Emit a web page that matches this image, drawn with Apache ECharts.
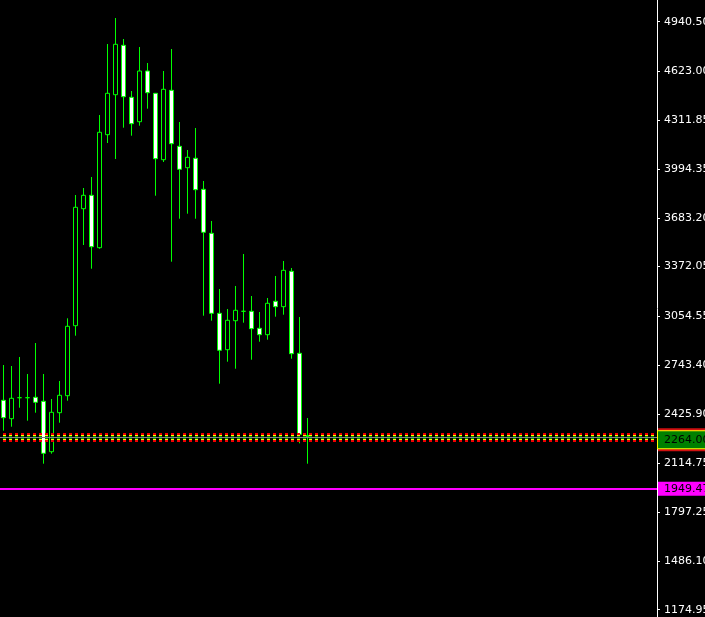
<!DOCTYPE html>
<html><head><meta charset="utf-8">
<script src="https://cdn.jsdelivr.net/npm/echarts@6/dist/echarts.min.js"></script>
<style>html,body{margin:0;padding:0;background:#000;overflow:hidden}#c{width:705px;height:617px;}</style>
</head><body><div id="c"></div>
<script>
// Candle data (oldest -> newest)
const opens  = [2516.0,2398.2,2532.6,2532.6,2535.2,2509.6,2186.8,2436.6,2545.4,2993.7,3743.0,3828.8,3493.2,4216.9,4473.0,4789.4,4456.4,4300.1,4624.8,4482.0,4056.8,4501.2,4142.6,4005.6,4065.8,3867.2,3585.5,3073.1,2840.0,3025.7,3085.9,3085.9,2977.1,2936.1,3150.0,3115.4,3342.1,2817.0,2290.0];
const closes = [2404.6,2528.8,2532.6,2532.6,2503.2,2176.5,2439.1,2548.0,2989.9,3751.9,3828.8,3499.6,4232.3,4482.0,4795.8,4460.2,4287.3,4624.8,4485.8,4063.2,4507.6,4159.2,3995.3,4072.2,3864.7,3591.9,3073.1,2836.2,3028.3,3092.3,3085.9,2974.5,2936.1,3137.2,3115.4,3348.5,2814.4,2298.2,2286.0];
const lows   = [2321.3,2346.9,2468.6,2385.3,2436.6,2110.0,2174.0,2372.5,2513.4,2929.7,3510.5,3358.7,3486.8,4163.7,4061.3,4261.7,4210.5,4274.5,4383.4,3826.2,4042.1,3403.6,3678.9,3711.0,3678.9,3057.8,3025.7,2622.3,2763.2,2718.3,3012.9,2776.0,2891.3,2904.1,3051.4,3064.2,2782.4,2240.6,2110.0];
const highs  = [2742.0,2735.6,2793.3,2684.4,2882.9,2684.4,2524.3,2639.6,3041.1,3830.7,3875.5,3946.0,4343.0,4797.7,4964.2,4829.7,4496.7,4778.5,4676.0,4482.0,4624.8,4765.7,4298.2,4118.9,4259.8,3920.4,3664.2,3228.7,3100.7,3248.0,3452.9,3183.9,3081.5,3171.1,3312.0,3408.1,3363.2,3049.4,2402.6];

// Right price scale tick labels
const tickValues = [4940.50,4623.00,4311.85,3994.35,3683.20,3372.05,3054.55,2743.40,2425.90,2114.75,1797.25,1486.10,1174.95];

// Horizontal levels
const bidPrice = 2264.00;
const magentaLevel = 1949.47;
const bandLevels = [2300.1, 2290.5, 2277.7, 2264.9, 2255.3, 2277.7];

// visible price range of the window
const priceMin = 1128.2, priceMax = 5079.5;

const candles = opens.map((o, i) => [i, o, closes[i], lows[i], highs[i]]);

const bandStyles = [
  {color:'#f00000', width:2, type:[3,3], dashOffset:3},
  {color:'#ffff00', width:1, type:[3,3], dashOffset:3},
  {color:'#008c00', width:3, type:[3,3], dashOffset:3},
  {color:'#ffff00', width:1, type:[3,3], dashOffset:3},
  {color:'#f00000', width:2, type:[3,3], dashOffset:3},
  {color:'#808080', width:1, type:'solid'}
];

const font = 'DejaVu Sans';
const markData = bandLevels.map((v, i) => ({
  yAxis: v, lineStyle: bandStyles[i], label: {show:false}
}));
markData.push({yAxis: magentaLevel, lineStyle:{color:'#ff00ff', width:2, type:'solid'},
  label:{show:true, position:'end', distance:1, formatter: magentaLevel.toFixed(2),
    color:'#000', backgroundColor:'#ff00ff', fontFamily:font, fontSize:11, lineHeight:12,
    padding:[1,6,1,6]}});
markData.push({yAxis: bidPrice, lineStyle:{color:'rgba(0,0,0,0)', width:1},
  label:{show:true, position:'end', distance:1, formatter: bidPrice.toFixed(2),
    color:'rgba(0,0,0,0)', backgroundColor:'#d01010', fontFamily:font, fontSize:11, lineHeight:13,
    padding:[5,7,5,7]}});
markData.push({yAxis: bidPrice, lineStyle:{color:'rgba(0,0,0,0)', width:1},
  label:{show:true, position:'end', distance:1, formatter: bidPrice.toFixed(2),
    color:'#000', backgroundColor:'#008000', borderColor:'#ffff00', borderWidth:1, fontFamily:font, fontSize:11, lineHeight:13,
    padding:[2,6,2,6]}});

const chart = echarts.init(document.getElementById('c'), null, {renderer:'canvas'});
chart.setOption({
  animation: false,
  backgroundColor: '#000000',
  grid: {left: 0, right: 48, top: 0, bottom: 0, containLabel:false, outerBoundsMode:'none'},
  xAxis: {type:'value', min:-0.4375, max:81.6875, show:false},
  yAxis: {
    type:'value', position:'right', min:priceMin, max:priceMax, scale:true,
    splitLine:{show:false},
    axisLine:{show:true, onZero:false, lineStyle:{color:'#ffffff', width:1}},
    axisTick:{show:true, customValues: tickValues, length:3, lineStyle:{color:'#ffffff'}},
    axisLabel:{show:true, customValues: tickValues, formatter: v => v.toFixed(2),
      color:'#ffffff', fontFamily:font, fontSize:11, margin:7}
  },
  series: [{
    type:'candlestick',
    data: candles,
    encode: {x:0, y:[1,2,3,4]},
    barWidth: 4,
    itemStyle: {
      color:'#000000', color0:'#ffffff',
      borderColor:'#00ff00', borderColor0:'#00ff00', borderColorDoji:'#00ff00',
      borderWidth:1, opacity:1
    },
    markLine: {silent:true, symbol:['none','none'], animation:false, data: markData}
  }]
});
</script>
</body></html>
